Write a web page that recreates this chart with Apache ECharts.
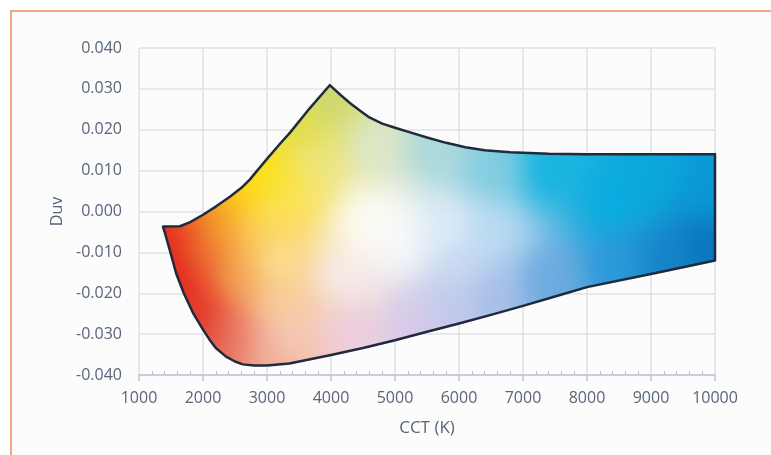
<!DOCTYPE html>
<html>
<head>
<meta charset="utf-8">
<script src="https://cdn.jsdelivr.net/npm/echarts@6/dist/echarts.min.js"></script>
<style>
html, body { margin: 0; padding: 0; background: #fff; }
#chart { width: 771px; height: 455px; }
</style>
</head>
<body>
<div id="chart"></div>
<script>
// boundary of the region, top edge left -> right
const cctTop = [1375, 1640, 1800, 2000, 2200, 2420, 2600, 2730, 2990, 3200, 3360, 3670, 3980, 4150, 4300, 4450, 4600, 4800, 5000, 5250, 5500, 5800, 6100, 6400, 6800, 7400, 8000, 9000, 10000]
const duvTop = [-0.0037, -0.0036, -0.0026, -0.0008, 0.0012, 0.0036, 0.0058, 0.0078, 0.0127, 0.0165, 0.0193, 0.0253, 0.0309, 0.0285, 0.0265, 0.0247, 0.0230, 0.0215, 0.0205, 0.0193, 0.0181, 0.0168, 0.0157, 0.0150, 0.0145, 0.0141, 0.0140, 0.0140, 0.0140]
// bottom edge right -> left
const cctBottom = [10000, 9000, 8000, 7500, 7000, 6500, 6000, 5500, 5000, 4500, 4000, 3600, 3350, 3000, 2800, 2620, 2500, 2360, 2200, 2100, 2000, 1850, 1700, 1580, 1480, 1400]
const duvBottom = [-0.0120, -0.0153, -0.0185, -0.0208, -0.0231, -0.0253, -0.0274, -0.0294, -0.0315, -0.0334, -0.0351, -0.0364, -0.0372, -0.0377, -0.0377, -0.0374, -0.0367, -0.0355, -0.0334, -0.0313, -0.0289, -0.0250, -0.0200, -0.0151, -0.0094, -0.0050]

// colour samples inside the region (cct, duv, colour)
const colorCct = [1420, 1500, 1650, 1800, 1900, 2200, 1750, 2000, 2150, 2300, 2450, 2700, 2850, 3100, 2800, 2600, 2500,
  3000, 3200, 3000, 3100, 3400, 3450, 3950, 3700, 4700, 4500, 4800, 5100, 4200, 4300, 3300,
  5300, 5800, 5800, 6000, 5600, 6500, 6500, 6500, 7400, 7400, 8400, 8500, 9000, 9900, 9900, 9200]
const colorDuv = [-0.006, -0.012, -0.018, -0.025, -0.028, -0.032, -0.004, -0.010, 0.000, -0.005, 0.003, 0.005, 0.008, 0.010, -0.005, -0.015, -0.033,
  -0.035, -0.022, 0.000, -0.012, 0.005, 0.020, 0.028, 0.012, 0.016, -0.002, -0.004, -0.008, -0.015, -0.030, -0.030,
  -0.027, -0.023, -0.004, -0.013, 0.015, 0.010, -0.005, -0.020, 0.010, -0.017, 0.003, -0.014, 0.010, 0.007, -0.009, -0.013]
const colorHex = ['#e0121a', '#e0101a', '#e31b1c', '#e2281e', '#e2382a', '#e45a44', '#e84a20', '#ec7030', '#f29020', '#f5a43a', '#fbc00e', '#ffe000', '#ffe800', '#f8e41c', '#fcd460', '#f4a850', '#e98270',
  '#f2b4a4', '#f8d4a0', '#ffec70', '#fff0a8', '#fde860', '#dcdc40', '#cad870', '#ece890', '#dce8cc', '#fffef8', '#ffffff', '#f8fafe', '#f8eef2', '#efcde2', '#f6d0c0',
  '#d8c8ea', '#c0c8ec', '#e0f0fb', '#c8d8f2', '#a8d8dc', '#80cce0', '#bcdcf4', '#a4bce8', '#10b2e0', '#6aa8e0', '#05aee0', '#2a98d8', '#0aa8dc', '#0a98d4', '#0874bc', '#1580c8']

const xTicks = [1000, 10000, 1000]
const yTicks = [-0.04, 0.04, 0.01]

const labelColor = '#596579'
const gridColor = '#e0e1e7'

function hexRgb(h) {
    return [parseInt(h.substr(1, 2), 16), parseInt(h.substr(3, 2), 16), parseInt(h.substr(5, 2), 16)]
}

// paint a smooth colour field (softened inverse distance weighting) onto a canvas
function paintField(w, h, ctrl, box) {
    const cv = document.createElement('canvas')
    cv.width = w
    cv.height = h
    const ctx = cv.getContext('2d')
    const img = ctx.createImageData(w, h)
    const x0 = Math.max(0, Math.floor(box[0])), x1 = Math.min(w, Math.ceil(box[2]))
    const y0 = Math.max(0, Math.floor(box[1])), y1 = Math.min(h, Math.ceil(box[3]))
    for (let y = y0; y < y1; y++) {
        for (let x = x0; x < x1; x++) {
            let sw = 0, r = 0, g = 0, b = 0
            for (let i = 0; i < ctrl.length; i++) {
                const p = ctrl[i]
                const dx = x - p.x, dy = y - p.y
                const d2 = dx * dx + dy * dy + 1000
                const wt = 1 / (d2 * d2)
                sw += wt
                r += wt * p.c[0]; g += wt * p.c[1]; b += wt * p.c[2]
            }
            const k = (y * w + x) * 4
            img.data[k] = r / sw
            img.data[k + 1] = g / sw
            img.data[k + 2] = b / sw
            img.data[k + 3] = 255
        }
    }
    ctx.putImageData(img, 0, 0)
    return cv
}

var chart = echarts.init(document.getElementById('chart'), null, {renderer: 'canvas'})

var option = {
    backgroundColor: '#ffffff',
    animation: false,
    graphic: [{
        type: 'rect',
        z: -100,
        shape: {x: 11, y: 11, width: 900, height: 600},
        style: {fill: '#fcfcfc', stroke: '#f4865c', lineWidth: 1.5}
    }],
    grid: [
        {left: 139, right: 56, top: 48, bottom: 80},
        {left: 139, right: 56, top: 48, bottom: 80}
    ],
    xAxis: [{
        type: 'value',
        gridIndex: 0,
        min: xTicks[0], max: xTicks[1], interval: xTicks[2],
        name: 'CCT (K)',
        nameLocation: 'middle',
        nameGap: 45,
        nameTextStyle: {color: labelColor, fontSize: 17, fontFamily: 'Open Sans'},
        axisLine: {show: true, onZero: false, lineStyle: {color: '#bcc6d6', width: 1.5}},
        axisTick: {show: true, length: 6, lineStyle: {color: '#bcc6d6', width: 1.5}},
        axisLabel: {color: labelColor, fontSize: 16, fontFamily: 'Open Sans', margin: 15,
            formatter: v => String(v)},
        splitLine: {show: true, lineStyle: {color: gridColor, width: 1.5}}
    }, {
        type: 'value',
        gridIndex: 1,
        min: xTicks[0], max: xTicks[1], interval: xTicks[2],
        axisLine: {show: false, onZero: false},
        axisTick: {show: false, inside: true},
        minorTick: {show: true, splitNumber: 5, length: 4, lineStyle: {color: '#bcc6d6', width: 1}},
        axisLabel: {show: false},
        splitLine: {show: false}
    }],
    yAxis: [{
        type: 'value',
        gridIndex: 0,
        min: yTicks[0], max: yTicks[1], interval: yTicks[2],
        name: 'Duv',
        nameLocation: 'middle',
        nameGap: 73,
        nameTextStyle: {color: labelColor, fontSize: 16, fontFamily: 'Open Sans'},
        axisLine: {show: false},
        axisTick: {show: false},
        axisLabel: {color: labelColor, fontSize: 16, fontFamily: 'Open Sans', margin: 17,
            formatter: v => v.toFixed(3)},
        splitLine: {show: true, lineStyle: {color: gridColor, width: 1.5}}
    }, {
        type: 'value',
        gridIndex: 1,
        min: yTicks[0], max: yTicks[1],
        show: false
    }],
    series: [{
        type: 'custom',
        xAxisIndex: 0,
        yAxisIndex: 0,
        data: [[cctTop[0], duvTop[0]]],
        renderItem: function (params, api) {
            const pts = []
            for (let i = 0; i < cctTop.length; i++) pts.push(api.coord([cctTop[i], duvTop[i]]))
            for (let i = 0; i < cctBottom.length; i++) pts.push(api.coord([cctBottom[i], duvBottom[i]]))
            const box = [Infinity, Infinity, -Infinity, -Infinity]
            pts.forEach(p => {
                box[0] = Math.min(box[0], p[0] - 3); box[1] = Math.min(box[1], p[1] - 3)
                box[2] = Math.max(box[2], p[0] + 3); box[3] = Math.max(box[3], p[1] + 3)
            })
            const ctrl = colorCct.map((c, i) => {
                const p = api.coord([c, colorDuv[i]])
                return {x: p[0], y: p[1], c: hexRgb(colorHex[i])}
            })
            const field = paintField(api.getWidth(), api.getHeight(), ctrl, box)
            return {
                type: 'polygon',
                shape: {points: pts},
                style: {
                    fill: {image: field, repeat: 'no-repeat'},
                    stroke: '#1f2a3c',
                    lineWidth: 2.5,
                    lineJoin: 'round'
                }
            }
        }
    }]
}

chart.setOption(option)
</script>
</body>
</html>
